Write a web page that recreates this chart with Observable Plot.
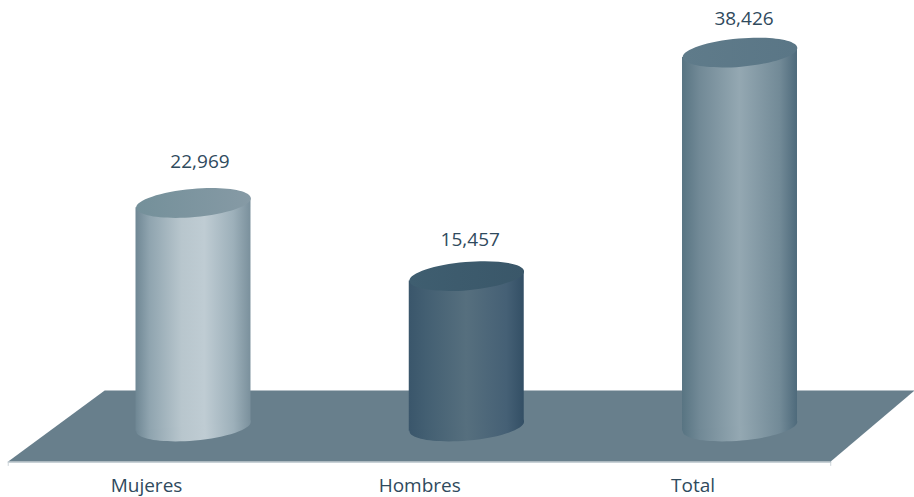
<!DOCTYPE html>
<html>
<head>
<meta charset="utf-8">
<script src="https://cdn.jsdelivr.net/npm/d3@7"></script>
<script src="https://cdn.jsdelivr.net/npm/@observablehq/plot@0.6"></script>
<style>
  html, body { margin: 0; padding: 0; background: #fff; }
  svg { display: block; }
</style>
</head>
<body>
<div id="chart"></div>
<script>
// Data
const categories = ["Mujeres", "Hombres", "Total"];
const values = [22969, 15457, 38426];
const valueLabels = ["22,969", "15,457", "38,426"];
// Floor outline, in category-position / value units
const floorX = [-0.678, -0.325, 2.6386, 2.332];
const floorY = [-3600, 3700, 3700, -3600];

// Styles and layout
const barHalfWidth = 0.2104;
const tilt = 500;
const bodyStops = [
  [[0, "#6f8794"], [0.12, "#8fa4af"], [0.4, "#b8c6cd"], [0.6, "#bfccd3"], [0.85, "#9db0ba"], [1, "#7a909c"]],
  [[0, "#3a566b"], [0.15, "#435f72"], [0.5, "#566f7e"], [0.85, "#456075"], [1, "#334f65"]],
  [[0, "#587482"], [0.15, "#718996"], [0.5, "#94a8b2"], [0.85, "#728a97"], [1, "#4e6a7b"]]
];
const topFills = [
  [[0, "#74909a"], [1, "#869aa5"]],
  [[0, "#3f5e70"], [1, "#3a5769"]],
  [[0, "#5f7b8a"], [1, "#5a7686"]]
];
const labelDx = [6.5, 3.5, 4];
const labelDy = [-41.5, -36.5, -34];

const ellipse = {
  draw(ctx, size) {
    const rx = Math.sqrt(size / Math.PI), ry = rx * 0.245;
    const t = Math.atan(5 / 57.5), c = Math.cos(t), s = Math.sin(t);
    const k = 0.5522847;
    const P = (a, b) => [a * c + b * s, -a * s + b * c];
    const seg = (a, b, d, e, f, g) => {
      ctx.bezierCurveTo(...P(a, b), ...P(d, e), ...P(f, g));
    };
    ctx.moveTo(...P(rx, 0));
    seg(rx, ry * k, rx * k, ry, 0, ry);
    seg(-rx * k, ry, -rx, ry * k, -rx, 0);
    seg(-rx, -ry * k, -rx * k, -ry, 0, -ry);
    seg(rx * k, -ry, rx, -ry * k, rx, 0);
    ctx.closePath();
  }
};

function defs() {
  const d = d3.create("svg:defs");
  const add = (id, stops) => {
    const g = d.append("linearGradient").attr("id", id)
      .attr("x1", 0).attr("y1", 0).attr("x2", 1).attr("y2", 0);
    stops.forEach(([o, col]) => g.append("stop").attr("offset", o).attr("stop-color", col));
  };
  bodyStops.forEach((st, i) => add("body" + i, st));
  topFills.forEach((st, i) => add("top" + i, st));
  return d.node();
}

const rows = categories.map((name, i) => ({ name, i, value: values[i], label: valueLabels[i] }));
const floor = floorX.map((x, k) => ({ x, y: floorY[k] }));

const barMarks = rows.flatMap((d) => [
  Plot.dot([d], { x: "i", y: () => 0, r: 57.5, symbol: ellipse, fill: `url(#body${d.i})`, stroke: "none" }),
  Plot.areaY(
    [
      { x: d.i - barHalfWidth, y1: -tilt, y2: d.value - tilt },
      { x: d.i + barHalfWidth, y1: tilt, y2: d.value + tilt }
    ],
    { x: "x", y1: "y1", y2: "y2", fill: `url(#body${d.i})` }
  ),
  Plot.dot([d], { x: "i", y: "value", r: 57.5, symbol: ellipse, fill: `url(#top${d.i})`, stroke: "none" }),
  Plot.text([d], {
    x: "i", y: "value", text: "label", dx: labelDx[d.i], dy: labelDy[d.i],
    fontSize: 19, fill: "#2f4a5d", textAnchor: "middle"
  })
]);

const plot = Plot.plot({
  width: 914,
  height: 497,
  marginTop: 0,
  marginRight: 0,
  marginBottom: 20,
  marginLeft: 0,
  style: { background: "#fff", fontFamily: "'Open Sans', sans-serif", overflow: "visible" },
  x: { domain: [-0.7063, 2.6386], axis: null },
  y: { domain: [-5242, 43782], axis: null },
  marks: [
    defs,
    Plot.ruleX([floorX[0], floorX[3]], { y1: floorY[0], y2: -4100, stroke: "#ccd4d9", strokeWidth: 1 }),
    Plot.line([floor[0], floor[3]], { x: "x", y: "y", stroke: "#c8d1d6", strokeWidth: 1.2, dy: 0.8 }),
    Plot.line(floor, { x: "x", y: "y", fill: "#687f8c", stroke: "none" }),
    ...barMarks,
    Plot.axisX({
      ticks: [0, 1, 2],
      tickFormat: (i) => categories[i],
      tickSize: 0,
      tickPadding: 1,
      dx: -47,
      fontSize: 19,
      fill: "#2f4a5d",
      label: null,
      anchor: "bottom"
    })
  ]
});
document.getElementById("chart").appendChild(plot);
</script>
</body>
</html>
